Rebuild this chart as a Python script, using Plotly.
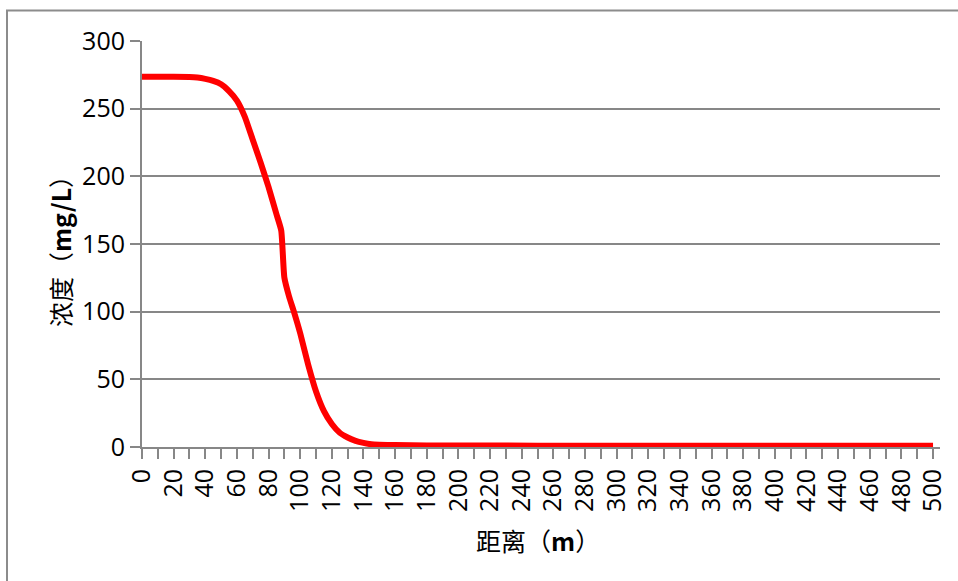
import plotly.graph_objects as go

# distance (m)
distance = [0, 10, 20, 30, 35, 40, 45, 50, 55, 60, 65, 70, 75, 80, 85, 88, 90, 93, 96,
            100, 105, 110, 115, 120, 125, 130, 135, 140, 145, 150, 160, 180, 200,
            250, 300, 350, 400, 450, 500]
# concentration (mg/L)
concentration = [273.5, 273.5, 273.5, 273.4, 273, 272, 270.5, 268, 263, 256, 244, 227, 210,
                 192, 172, 160, 125, 111, 100, 84, 61, 41, 26.5, 17, 10.5, 7, 4.5, 3,
                 2, 1.7, 1.4, 1.2, 1.1, 1, 1, 1, 1, 1, 1]

x_ticks = list(range(0, 501, 20))
y_ticks = [0, 50, 100, 150, 200, 250, 300]

W, H = 958, 581
L, R, T, B = 142, 940, 41, 447  # plot area in pixels


def px(xp):
    return (xp - L) / (R - L)


def py(yp):
    return (B - yp) / (B - T)


GRAY = "#878787"
TICKFONT = dict(family="Open Sans, sans-serif", size=25, color="#000000")

fig = go.Figure()
fig.add_trace(go.Scatter(
    x=distance, y=concentration, mode="lines",
    line=dict(color="#FF0000", width=6, shape="spline", smoothing=0.5),
    showlegend=False, hoverinfo="x+y",
))

fig.update_layout(
    width=W, height=H,
    margin=dict(l=L, r=W - R, t=T, b=H - B, autoexpand=False),
    paper_bgcolor="white", plot_bgcolor="white",
    showlegend=False,
    xaxis=dict(
        range=[0, 504.4], tickvals=x_ticks, ticktext=[str(v) for v in x_ticks],
        tickangle=-90, tickfont=TICKFONT,
        ticks="outside", ticklen=10, tickwidth=1.5, tickcolor=GRAY,
        minor=dict(dtick=10, tick0=0, ticks="outside", ticklen=10, tickwidth=1.5,
                   tickcolor=GRAY, showgrid=False),
        showline=True, linecolor=GRAY, linewidth=2,
        showgrid=False, zeroline=False, ticklabelstandoff=0,
    ),
    yaxis=dict(
        range=[0, 300], tickvals=y_ticks, tickfont=TICKFONT,
        ticks="outside", ticklen=10, tickwidth=1.5, tickcolor=GRAY,
        showline=True, linecolor=GRAY, linewidth=2,
        showgrid=True, gridcolor=GRAY, gridwidth=1.5, zeroline=False,
        ticklabelstandoff=0,
    ),
    shapes=[dict(
        type="rect", xref="paper", yref="paper",
        x0=px(7), x1=px(980), y0=py(610), y1=py(10.5),
        line=dict(color="#8c8c8c", width=2), fillcolor="rgba(0,0,0,0)", layer="below",
    )],
    annotations=[
        dict(
            xref="paper", yref="paper", x=px(538), y=py(540),
            text="距离（<b>m</b>）", showarrow=False,
            font=dict(family="Noto Sans CJK SC, sans-serif", size=25, color="#000000"),
            xanchor="center", yanchor="middle",
        ),
        dict(
            xref="paper", yref="paper", x=px(60), y=py(245),
            text="浓度（<b>mg/L</b>）", showarrow=False, textangle=-90,
            font=dict(family="Noto Sans CJK SC, sans-serif", size=25, color="#000000"),
            xanchor="center", yanchor="middle",
        ),
    ],
)

fig.write_html(
    "out.html",
    config={"displayModeBar": False},
    post_script="document.body.style.margin='0';document.body.style.overflow='hidden';",
)
